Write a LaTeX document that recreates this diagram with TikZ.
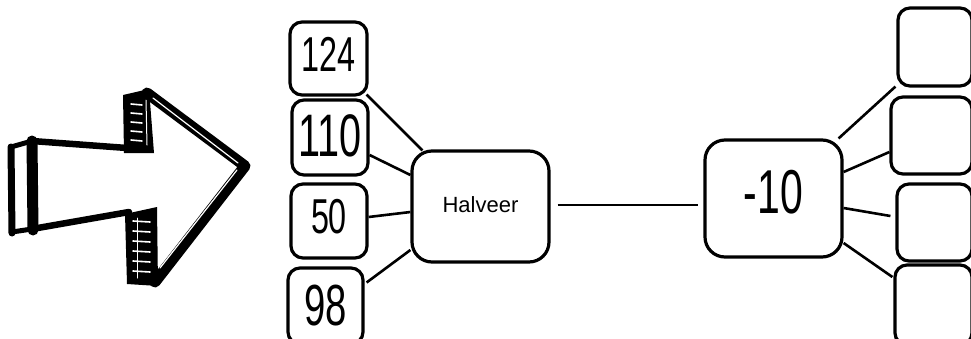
\documentclass[tikz,border=0pt]{standalone}
\usepackage{fontspec}
\setmainfont{Liberation Sans}
\newcommand\numtxt[3][8pt]{{\fontsize{#2}{#2}\selectfont\raisebox{#1}{\scalebox{0.66}[1]{#3}}}}
\begin{document}
\begin{tikzpicture}[x=1pt,y=-1pt, line width=3.2pt,
  box/.style={draw, rounded corners=12pt, inner sep=0pt, align=center},
  big/.style={box, rounded corners=20pt},
  conn/.style={line width=2.6pt}]
\useasboundingbox (0,0) rectangle (971,338);
\clip (0,0) rectangle (971,338);

% left boxes
\node[box,minimum width=77pt,minimum height=73pt] (n124) at (328.5,58.5) {\numtxt[8.5pt]{49}{124}};
\node[box,minimum width=76pt,minimum height=75pt] (n110) at (330,137.5) {\numtxt[4.5pt]{60}{110}};
\node[box,minimum width=76pt,minimum height=74pt] (n50) at (329,221) {\numtxt[9pt]{49}{50}};
\node[box,minimum width=75pt,minimum height=76pt] (n98) at (325.5,306) {\numtxt[-5pt]{58}{98}};

% middle boxes
\node[big,minimum width=137pt,minimum height=111pt,font=\fontsize{22}{22}\selectfont] (hal) at (480.5,206.5) {\raisebox{3pt}{Halveer}};
\node[big,minimum width=137pt,minimum height=117pt] (min) at (773.5,198.5) {\numtxt[13pt]{62}{-10}};

% right boxes
\node[box,minimum width=74pt,minimum height=78pt] (r1) at (935,47) {};
\node[box,minimum width=81pt,minimum height=77pt] (r2) at (931.5,135.5) {};
\node[box,minimum width=75pt,minimum height=77pt] (r3) at (934.5,222.5) {};
\node[box,minimum width=77pt,minimum height=80pt] (r4) at (933.5,305) {};

% connectors
\draw[conn] ([shift={(-2,-2)}]n124.south east) -- ([shift={(12,1)}]hal.north west);
\draw[conn] ([shift={(0,17.5)}]n110.east) -- ([shift={(0,-31.5)}]hal.west);
\draw[conn] ([shift={(0,-4)}]n50.east) -- ([shift={(0,5.5)}]hal.west);
\draw[conn] ([shift={(2,-23.5)}]n98.east) -- ([shift={(0,43.5)}]hal.west);
\draw[line width=1.4pt] ([shift={(7,-1.5)}]hal.east) -- ([shift={(-5,6.5)}]min.west);
\draw[conn] ([shift={(-5,0)}]min.north east) -- ([shift={(-1,-1)}]r1.south west);
\draw[conn] ([shift={(0,-26.5)}]min.east) -- ([shift={(0,16.5)}]r2.west);
\draw[conn] ([shift={(0,9.5)}]min.east) -- ([shift={(-5,-6.5)}]r3.west);
\draw[conn] ([shift={(0,44.5)}]min.east) -- ([shift={(-1,-28)}]r4.west);

% hand-drawn arrow
\begin{scope}[line cap=round, line join=round]
  \draw[line width=7pt] (11,147) -- (12,233);
  \draw[line width=11pt] (32,141) -- (33,230);
  \draw[line width=5pt] (11,147) -- (32,141);
  \draw[line width=5pt] (12,232) -- (32,229);
  \draw[line width=6.5pt] (32,141) -- (127,148);
  \draw[line width=6.5pt] (32,229) -- (129,212);
  \fill (123,95) -- (149,89) -- (154,153) -- (124,153) -- cycle;
  \foreach \y in {104,113,122,131,140}
    \draw[white,line width=1.6pt] (131,\y) -- (142,\y+1);
  \draw[white,line width=1pt] (146,100) -- (147,145);
  \fill (125,214) -- (157,207) -- (158,286) -- (127,284) -- cycle;
  \foreach \y in {221,231,241,251,261,271}
    \draw[white,line width=1.6pt] (133,\y) -- (150,\y+1);
  \draw[white,line width=1pt] (137,218) -- (137,278);
  \draw[line width=11pt] (147,93) -- (245,166) -- (155,282);
  \draw[white,line width=1.2pt] (153,98) -- (238,163);
  \draw[white,line width=1.2pt] (237,170) -- (160,268);
\end{scope}
\end{tikzpicture}
\end{document}
